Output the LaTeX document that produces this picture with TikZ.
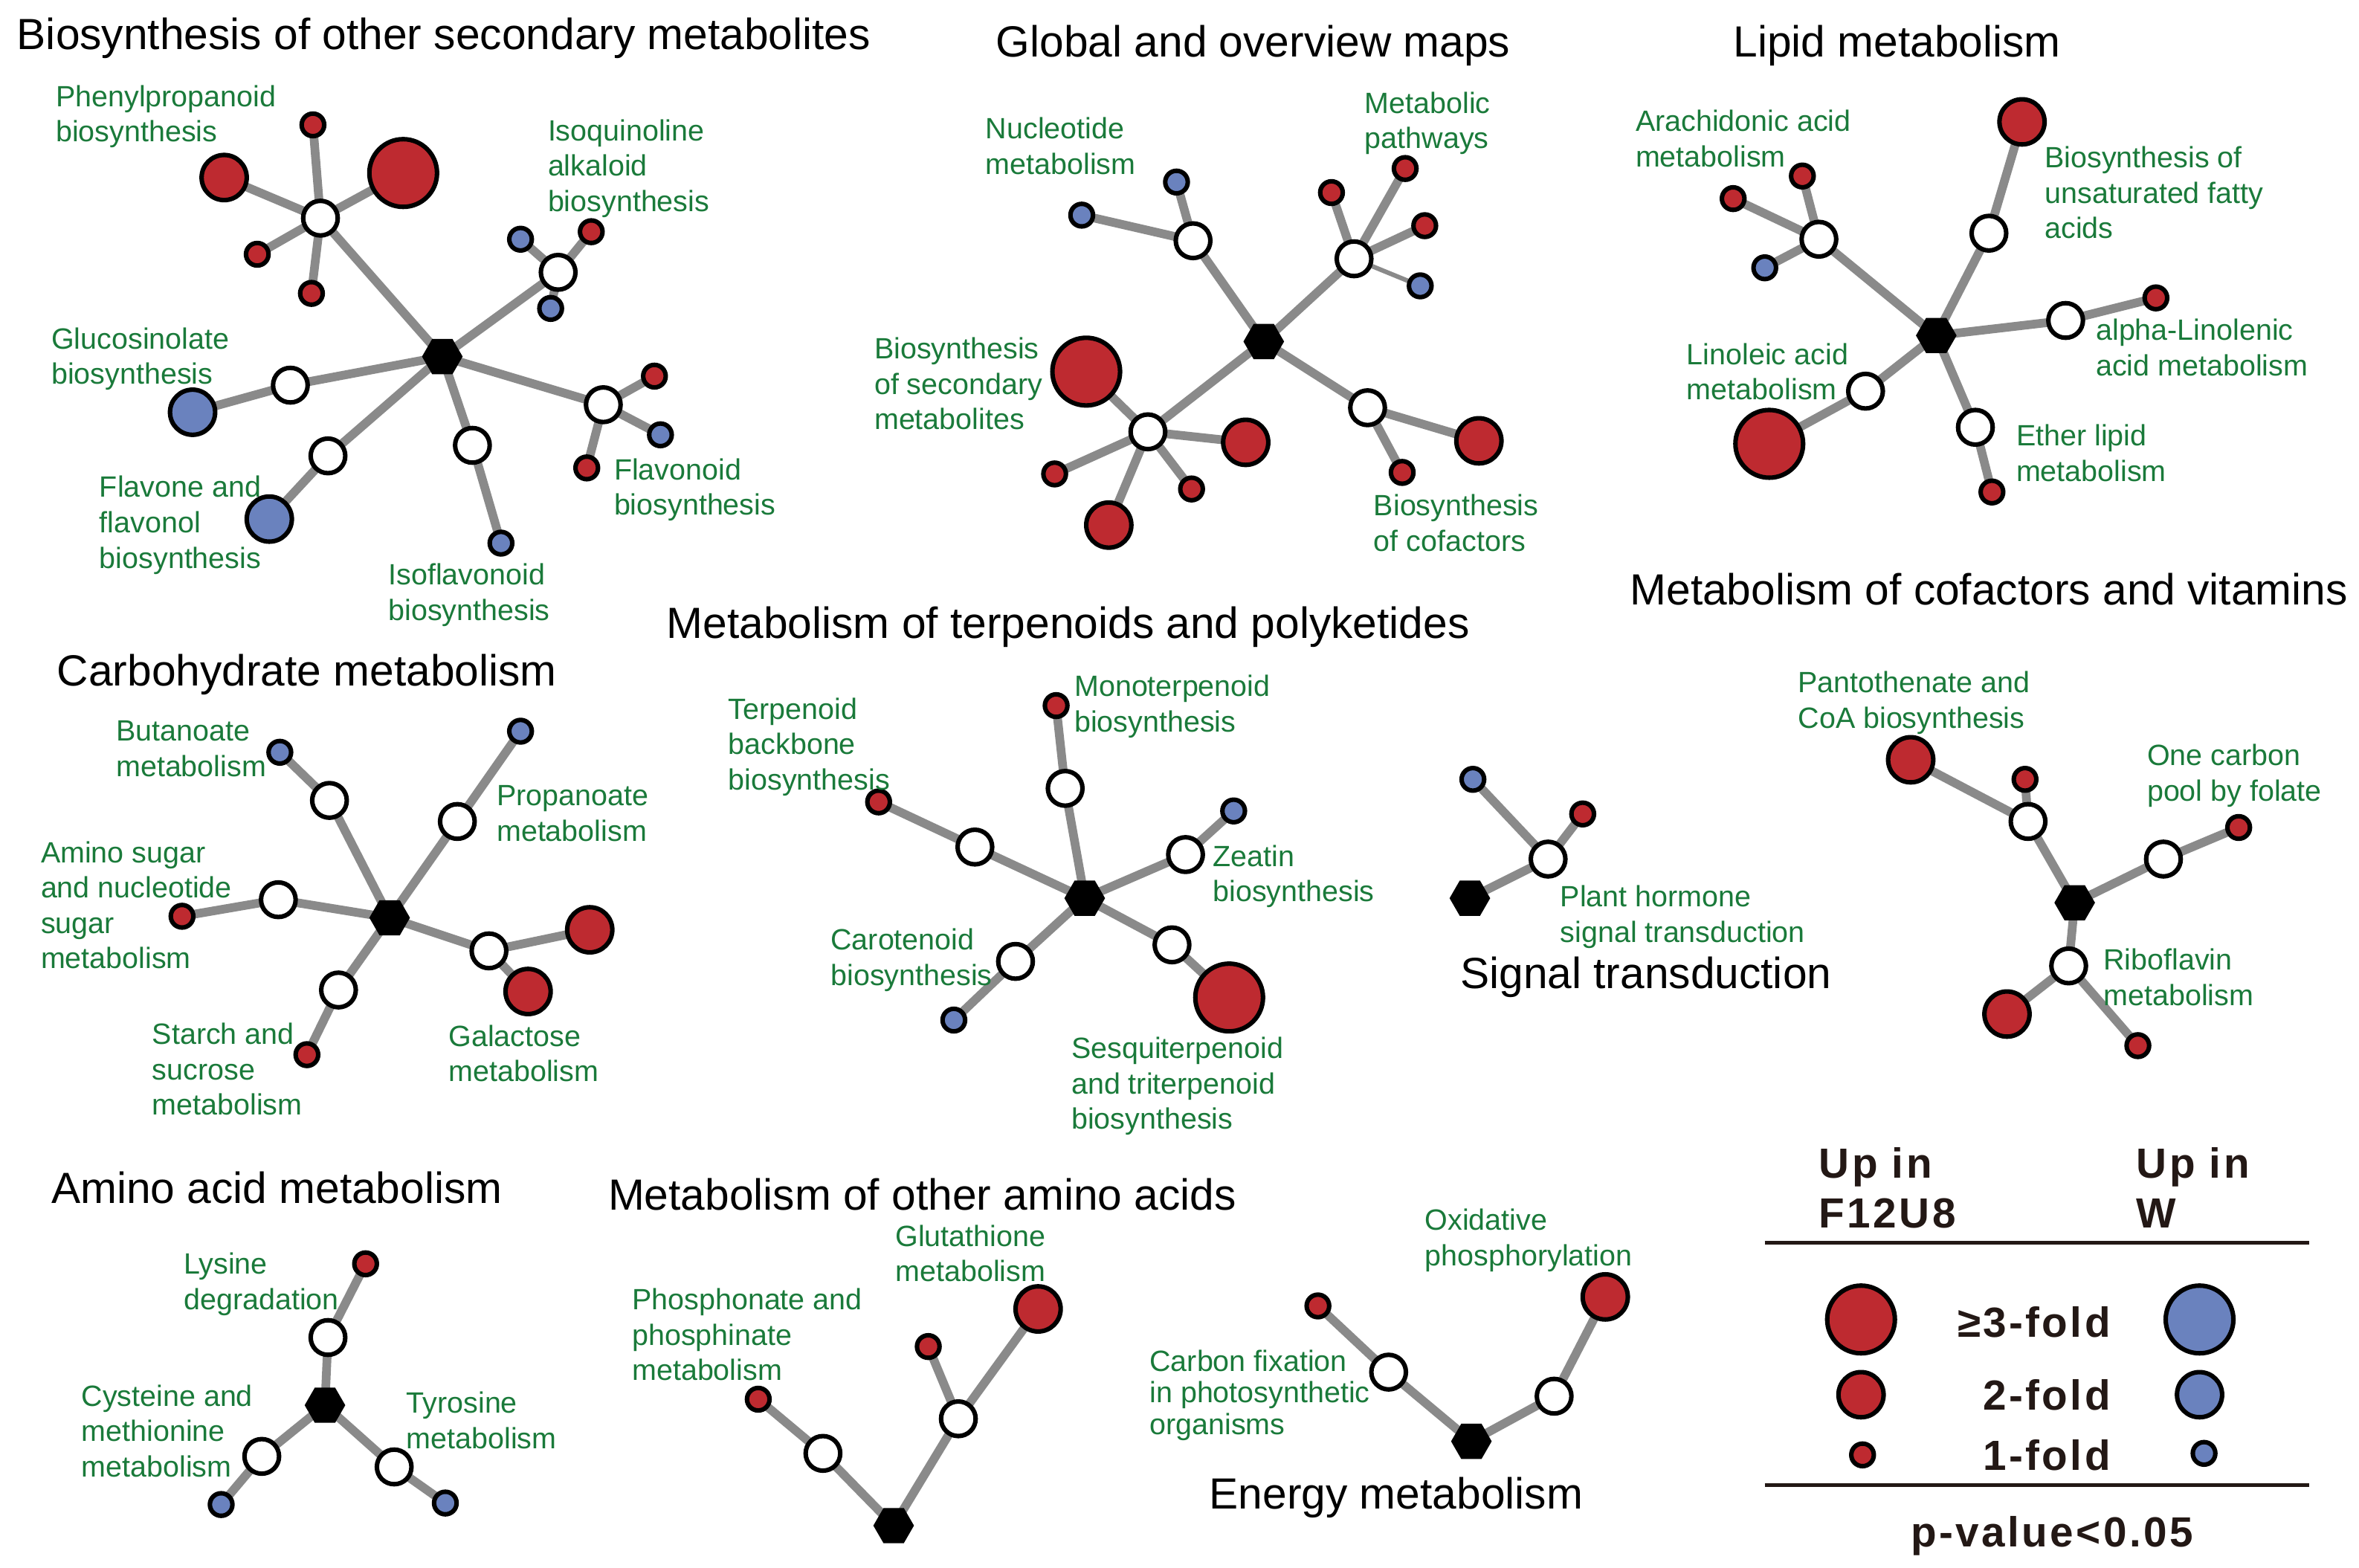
\documentclass[tikz,border=0pt]{standalone}
\usepackage{fontspec}
\setmainfont{Liberation Sans}
\newfontfamily\legfont[LetterSpace=6]{Liberation Sans}
\usetikzlibrary{shapes.geometric}
\pgfdeclarelayer{bg}
\pgfsetlayers{bg,main}
\definecolor{upred}{RGB}{190,42,48}
\definecolor{upblue}{RGB}{106,130,190}
\definecolor{labgreen}{RGB}{26,122,58}
\definecolor{edgegray}{RGB}{138,138,138}
\definecolor{legblack}{RGB}{35,24,21}
\tikzset{
  hub/.style={regular polygon, regular polygon sides=6, fill=black, minimum size=27pt, inner sep=0pt},
  circ/.style={circle, draw=black, line width=3pt, inner sep=0pt},
  wn/.style={circ, fill=white, minimum size=23pt},
  rL/.style={circ, fill=upred, minimum size=45pt},
  rM/.style={circ, fill=upred, minimum size=30pt},
  rS/.style={circ, fill=upred, minimum size=15pt},
  bL/.style={circ, fill=upblue, minimum size=45pt},
  bM/.style={circ, fill=upblue, minimum size=30pt},
  bS/.style={circ, fill=upblue, minimum size=15pt},
  edge/.style={draw=edgegray, line width=5.8pt},
  thinedge/.style={draw=edgegray, line width=3pt},
  lbl/.style={text=labgreen, align=left, anchor=west, inner sep=0pt, yshift=-3.5pt,
    font=\fontsize{19.5}{23.5}\selectfont,
    execute at begin node=\strut, execute at end node=\strut},
  ttl/.style={anchor=base, inner sep=0pt, font=\fontsize{29}{34}\selectfont},
  leg/.style={text=legblack, inner sep=0pt, font=\legfont\bfseries\fontsize{28}{33}\selectfont},
}
\begin{document}
\begin{tikzpicture}[x=1pt,y=-1pt]
\useasboundingbox (0,0) rectangle (1568,1042);
% ---------- Panel 1
\node[ttl] (t1) at (295,33) {Biosynthesis of other secondary metabolites};
\node[hub] (h1) at (294,237) {};
\node[wn] (h1a) at (213,145) {};
\node[rS] (h1a1) at (208,83) {};
\node[rL] (h1a2) at (268,115) {};
\node[rM] (h1a3) at (149,118) {};
\node[rS] (h1a4) at (171,169) {};
\node[rS] (h1a5) at (207,195) {};
\node[wn] (h1b) at (371,181) {};
\node[bS] (h1b1) at (346,159) {};
\node[rS] (h1b2) at (393,154) {};
\node[bS] (h1b3) at (366,205) {};
\node[wn] (h1c) at (193,256) {};
\node[bM] (h1c1) at (128,274) {};
\node[wn] (h1d) at (218,303) {};
\node[bM] (h1d1) at (179,345) {};
\node[wn] (h1e) at (314,296) {};
\node[bS] (h1e1) at (333,361) {};
\node[wn] (h1f) at (401,269) {};
\node[rS] (h1f1) at (435,250) {};
\node[bS] (h1f2) at (439,289) {};
\node[rS] (h1f3) at (390,311) {};
\node[lbl] (l1a) at (37,75.5) {Phenylpropanoid\\biosynthesis};
\node[lbl] (l1b) at (364,110) {Isoquinoline\\alkaloid\\biosynthesis};
\node[lbl] (l1c) at (34,236.5) {Glucosinolate\\biosynthesis};
\node[lbl] (l1d) at (66,347) {Flavone and\\flavonol\\biosynthesis};
\node[lbl] (l1e) at (258,393.5) {Isoflavonoid\\biosynthesis};
\node[lbl] (l1f) at (408,323.5) {Flavonoid\\biosynthesis};
% ---------- Panel 2
\node[ttl] (t2) at (833,38) {Global and overview maps};
\node[hub] (h2) at (840,227) {};
\node[wn] (h2a) at (793,160) {};
\node[bS] (h2a1) at (719,143) {};
\node[bS] (h2a2) at (782,121) {};
\node[wn] (h2b) at (900,172) {};
\node[rS] (h2b1) at (885,128) {};
\node[rS] (h2b2) at (934,112) {};
\node[rS] (h2b3) at (947,150) {};
\node[bS] (h2b4) at (944,190) {};
\node[wn] (h2c) at (763,287) {};
\node[rL] (h2c1) at (722,247) {};
\node[rM] (h2c2) at (828,294) {};
\node[rS] (h2c3) at (701,315) {};
\node[rS] (h2c4) at (792,325) {};
\node[rM] (h2c5) at (737,349) {};
\node[wn] (h2d) at (909,271) {};
\node[rM] (h2d1) at (983,293) {};
\node[rS] (h2d2) at (932,314) {};
\node[lbl] (l2a) at (655,97) {Nucleotide\\metabolism};
\node[lbl] (l2b) at (907,80) {Metabolic\\pathways};
\node[lbl] (l2c) at (581,255) {Biosynthesis\\of secondary\\metabolites};
\node[lbl] (l2d) at (913,347.5) {Biosynthesis\\of cofactors};
% ---------- Panel 3
\node[ttl] (t3) at (1261,38) {Lipid metabolism};
\node[hub] (h3) at (1287,223) {};
\node[wn] (h3a) at (1209,159) {};
\node[rS] (h3a1) at (1152,132) {};
\node[rS] (h3a2) at (1198,117) {};
\node[bS] (h3a3) at (1173,178) {};
\node[wn] (h3b) at (1322,155) {};
\node[rM] (h3b1) at (1344,81) {};
\node[wn] (h3c) at (1373,213) {};
\node[rS] (h3c1) at (1433,198) {};
\node[wn] (h3d) at (1240,260) {};
\node[rL] (h3d1) at (1176,295) {};
\node[wn] (h3e) at (1313,284) {};
\node[rS] (h3e1) at (1324,327) {};
\node[lbl] (l3a) at (1087,92) {Arachidonic acid\\metabolism};
\node[lbl] (l3b) at (1359,128) {Biosynthesis of\\unsaturated fatty\\acids};
\node[lbl] (l3c) at (1393,231) {alpha-Linolenic\\acid metabolism};
\node[lbl] (l3d) at (1121,247) {Linoleic acid\\metabolism};
\node[lbl] (l3e) at (1340,301) {Ether lipid\\metabolism};
% ---------- Panel 4
\node[ttl] (t4) at (204,456) {Carbohydrate metabolism};
\node[hub] (h4) at (259,610) {};
\node[wn] (h4a) at (219,532) {};
\node[bS] (h4a1) at (186,500) {};
\node[wn] (h4b) at (304,546) {};
\node[bS] (h4b1) at (346,486) {};
\node[wn] (h4c) at (185,598) {};
\node[rS] (h4c1) at (121,609) {};
\node[wn] (h4d) at (325,632) {};
\node[rM] (h4d1) at (392,618) {};
\node[rM] (h4d2) at (351,659) {};
\node[wn] (h4e) at (225,658) {};
\node[rS] (h4e1) at (204,701) {};
\node[lbl] (l4a) at (77,497.5) {Butanoate\\metabolism};
\node[lbl] (l4b) at (330,540.5) {Propanoate\\metabolism};
\node[lbl] (l4c) at (27,601.5) {Amino sugar\\and nucleotide\\sugar\\metabolism};
\node[lbl] (l4d) at (101,710.5) {Starch and\\sucrose\\metabolism};
\node[lbl] (l4e) at (298,700) {Galactose\\metabolism};
% ---------- Panel 5
\node[ttl] (t5) at (710,424) {Metabolism of terpenoids and polyketides};
\node[hub] (h5) at (721,597) {};
\node[wn] (h5a) at (648,563) {};
\node[rS] (h5a1) at (584,533) {};
\node[wn] (h5b) at (708,524) {};
\node[rS] (h5b1) at (702,469) {};
\node[wn] (h5c) at (788,568) {};
\node[bS] (h5c1) at (820,539) {};
\node[wn] (h5d) at (675,639) {};
\node[bS] (h5d1) at (634,678) {};
\node[wn] (h5e) at (779,628) {};
\node[rL] (h5e1) at (817,663) {};
\node[lbl] (l5a) at (484,494.5) {Terpenoid\\backbone\\biosynthesis};
\node[lbl] (l5b) at (714,467.5) {Monoterpenoid\\biosynthesis};
\node[lbl] (l5c) at (806,580.5) {Zeatin\\biosynthesis};
\node[lbl] (l5d) at (552,636) {Carotenoid\\biosynthesis};
\node[lbl] (l5e) at (712,720) {Sesquiterpenoid\\and triterpenoid\\biosynthesis};
% ---------- Panel 6
\node[ttl] (t6) at (1094,657) {Signal transduction};
\node[hub] (h6) at (977,597) {};
\node[wn] (h6a) at (1029,571) {};
\node[bS] (h6a1) at (979,518) {};
\node[rS] (h6a2) at (1052,541) {};
\node[lbl] (l6a) at (1037,607.5) {Plant hormone\\signal transduction};
% ---------- Panel 7
\node[ttl] (t7) at (1322,402) {Metabolism of cofactors and vitamins};
\node[hub] (h7) at (1379,600) {};
\node[wn] (h7a) at (1348,546) {};
\node[rM] (h7a1) at (1270,505) {};
\node[rS] (h7a2) at (1346,518) {};
\node[wn] (h7b) at (1438,571) {};
\node[rS] (h7b1) at (1488,550) {};
\node[wn] (h7c) at (1375,642) {};
\node[rM] (h7c1) at (1334,674) {};
\node[rS] (h7c2) at (1421,695) {};
\node[lbl] (l7a) at (1195,465) {Pantothenate and\\CoA biosynthesis};
\node[lbl] (l7b) at (1427,513.5) {One carbon\\pool by folate};
\node[lbl] (l7c) at (1398,649.5) {Riboflavin\\metabolism};
% ---------- Panel 8
\node[ttl] (t8) at (184,800) {Amino acid metabolism};
\node[hub] (h8) at (216,934) {};
\node[wn] (h8a) at (218,889) {};
\node[rS] (h8a1) at (243,840) {};
\node[wn] (h8b) at (174,968) {};
\node[bS] (h8b1) at (147,1000) {};
\node[wn] (h8c) at (262,975) {};
\node[bS] (h8c1) at (296,999) {};
\node[lbl] (l8a) at (122,851.5) {Lysine\\degradation};
\node[lbl] (l8b) at (54,951) {Cysteine and\\methionine\\metabolism};
\node[lbl] (l8c) at (270,944) {Tyrosine\\metabolism};
% ---------- Panel 9
\node[ttl] (t9) at (613,804) {Metabolism of other amino acids};
\node[hub] (h9) at (594,1014) {};
\node[wn] (h9a) at (547,966) {};
\node[rS] (h9a1) at (504,930) {};
\node[wn] (h9b) at (637,943) {};
\node[rS] (h9b1) at (617,895) {};
\node[rM] (h9b2) at (690,870) {};
\node[lbl] (l9a) at (420,887) {Phosphonate and\\phosphinate\\metabolism};
\node[lbl] (l9b) at (595,833) {Glutathione\\metabolism};
% ---------- Panel 10
\node[ttl] (t10) at (928,1003) {Energy metabolism};
\node[hub] (h10) at (978,958) {};
\node[wn] (h10a) at (923,912) {};
\node[rS] (h10a1) at (876,868) {};
\node[wn] (h10b) at (1033,928) {};
\node[rM] (h10b1) at (1067,862) {};
\node[lbl] (l10a) at (947,822.5) {Oxidative\\phosphorylation};
\node[lbl, font=\fontsize{19.5}{21}\selectfont] (l10b) at (764,925) {Carbon fixation\\in photosynthetic\\organisms};
% ---------- Edges
\begin{pgfonlayer}{bg}
\fill[white] (0,0) rectangle (1568,1042);
\foreach \u/\v in {h1/h1a,h1a/h1a1,h1a/h1a2,h1a/h1a3,h1a/h1a4,h1a/h1a5,h1/h1b,h1b/h1b1,h1b/h1b2,h1b/h1b3,h1/h1c,h1c/h1c1,h1/h1d,h1d/h1d1,h1/h1e,h1e/h1e1,h1/h1f,h1f/h1f1,h1f/h1f2,h1f/h1f3,
h2/h2a,h2a/h2a1,h2a/h2a2,h2/h2b,h2b/h2b1,h2b/h2b2,h2b/h2b3,h2/h2c,h2c/h2c1,h2c/h2c2,h2c/h2c3,h2c/h2c4,h2c/h2c5,h2/h2d,h2d/h2d1,h2d/h2d2,
h3/h3a,h3a/h3a1,h3a/h3a2,h3a/h3a3,h3/h3b,h3b/h3b1,h3/h3c,h3c/h3c1,h3/h3d,h3d/h3d1,h3/h3e,h3e/h3e1,
h4/h4a,h4a/h4a1,h4/h4b,h4b/h4b1,h4/h4c,h4c/h4c1,h4/h4d,h4d/h4d1,h4d/h4d2,h4/h4e,h4e/h4e1,
h5/h5a,h5a/h5a1,h5/h5b,h5b/h5b1,h5/h5c,h5c/h5c1,h5/h5d,h5d/h5d1,h5/h5e,h5e/h5e1,
h6/h6a,h6a/h6a1,h6a/h6a2,
h7/h7a,h7a/h7a1,h7a/h7a2,h7/h7b,h7b/h7b1,h7/h7c,h7c/h7c1,h7c/h7c2,
h8/h8a,h8a/h8a1,h8/h8b,h8b/h8b1,h8/h8c,h8c/h8c1,
h9/h9a,h9a/h9a1,h9/h9b,h9b/h9b1,h9b/h9b2,
h10/h10a,h10a/h10a1,h10/h10b,h10b/h10b1}
  \draw[edge] (\u.center) -- (\v.center);
\draw[thinedge] (h2b.center) -- (h2b4.center);
\end{pgfonlayer}
% ---------- Legend
\node[leg, align=left, anchor=west, execute at begin node=\strut, execute at end node=\strut] (g1) at (1209,794.5) {Up in\\F12U8};
\node[leg, align=left, anchor=west, execute at begin node=\strut, execute at end node=\strut] (g2) at (1420,794.5) {Up in\\W};
\draw[legblack, line width=2.5pt] (1173,826) -- (1535,826);
\draw[legblack, line width=2.5pt] (1173,987) -- (1535,987);
\node[rL] (gr1) at (1237,877) {};
\node[bL] (gb1) at (1462,877) {};
\node[rM] (gr2) at (1237,927) {};
\node[bM] (gb2) at (1462,927) {};
\node[rS] (gr3) at (1238,967) {};
\node[bS] (gb3) at (1465,966) {};
\node[leg, anchor=east] (f1) at (1403,879) {≥3-fold};
\node[leg, anchor=east] (f2) at (1403,927) {2-fold};
\node[leg, anchor=east] (f3) at (1403,967) {1-fold};
\node[leg, anchor=base] (pv) at (1364,1028) {p-value<0.05};
\end{tikzpicture}
\end{document}
